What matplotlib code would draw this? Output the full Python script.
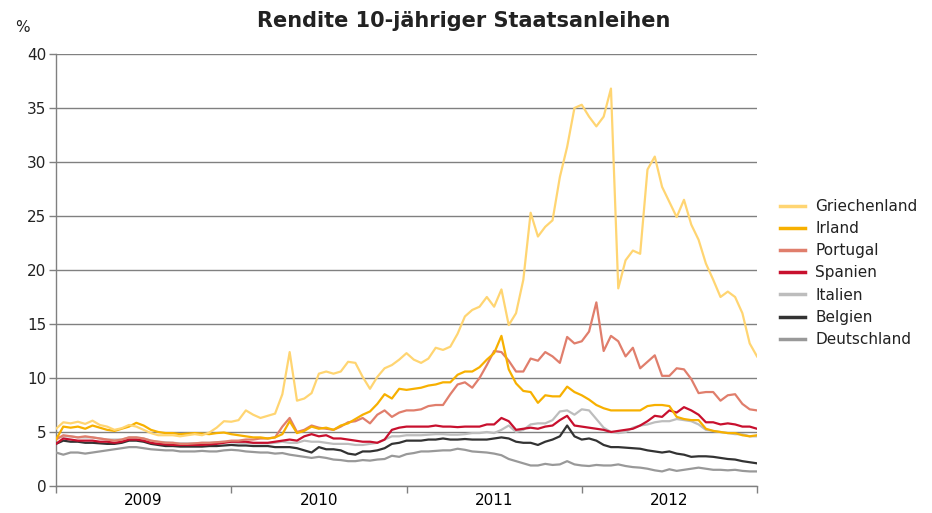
import numpy as np
import matplotlib
matplotlib.use("Agg")
import matplotlib.pyplot as plt

# semi-monthly sample points, 2009-01 .. 2012-12
t = 2009 + np.arange(97) / 24.0

griechenland = [5.3, 5.9, 5.8, 5.95, 5.75, 6.05, 5.65, 5.5, 5.2, 5.35, 5.65, 5.5, 5.2, 4.9, 4.7, 4.7, 4.7, 4.6, 4.7, 4.8, 4.7, 4.95, 5.4, 6.0,
                5.95, 6.1, 7.0, 6.6, 6.3, 6.5, 6.7, 8.5, 12.4, 7.9, 8.1, 8.6, 10.4, 10.6, 10.4, 10.6, 11.5, 11.4, 10.1, 9.0, 10.1, 10.9, 11.2, 11.7,
                12.3, 11.7, 11.4, 11.8, 12.8, 12.6, 12.9, 14.1, 15.7, 16.3, 16.6, 17.5, 16.6, 18.2, 14.9, 16.0, 19.1, 25.3, 23.1, 24.0, 24.6, 28.6, 31.4, 35.0,
                35.3, 34.2, 33.3, 34.2, 36.8, 18.3, 20.9, 21.8, 21.5, 29.3, 30.5, 27.7, 26.3, 24.9, 26.5, 24.2, 22.8, 20.6, 19.1, 17.5, 18.0, 17.5, 16.0, 13.2,
                12.0]
irland = [4.3, 5.5, 5.4, 5.5, 5.3, 5.6, 5.4, 5.2, 5.1, 5.3, 5.5, 5.85, 5.6, 5.2, 5.0, 4.9, 4.9, 4.8, 4.85, 4.9, 4.85, 4.8, 4.9, 4.95,
          4.8, 4.7, 4.6, 4.5, 4.5, 4.4, 4.5, 4.8, 6.0, 4.9, 5.1, 5.5, 5.3, 5.4, 5.2, 5.6, 5.8, 6.2, 6.6, 6.9, 7.6, 8.5, 8.1, 9.0,
          8.9, 9.0, 9.1, 9.3, 9.4, 9.6, 9.6, 10.3, 10.6, 10.6, 11.0, 11.7, 12.3, 13.9, 10.8, 9.5, 8.8, 8.7, 7.7, 8.4, 8.3, 8.3, 9.2, 8.7,
          8.4, 8.0, 7.5, 7.2, 7.0, 7.0, 7.0, 7.0, 7.0, 7.4, 7.5, 7.5, 7.4, 6.4, 6.2, 6.1, 6.1, 5.3, 5.1, 5.0, 4.9, 4.9, 4.7, 4.6,
          4.7]
portugal = [4.3, 4.7, 4.6, 4.5, 4.6, 4.5, 4.4, 4.3, 4.2, 4.3, 4.5, 4.5, 4.4, 4.2, 4.1, 4.0, 4.0, 3.9, 3.9, 3.95, 4.0, 4.0, 4.05, 4.1,
            4.2, 4.2, 4.3, 4.3, 4.4, 4.4, 4.5, 5.5, 6.3, 5.0, 5.2, 5.6, 5.4, 5.3, 5.2, 5.5, 5.9, 6.0, 6.3, 5.8, 6.6, 7.0, 6.4, 6.8,
            7.0, 7.0, 7.1, 7.4, 7.5, 7.5, 8.5, 9.4, 9.6, 9.1, 10.0, 11.2, 12.5, 12.4, 11.6, 10.6, 10.6, 11.8, 11.6, 12.4, 12.0, 11.4, 13.8, 13.2,
            13.4, 14.3, 17.0, 12.5, 13.9, 13.4, 12.0, 12.8, 10.9, 11.5, 12.1, 10.2, 10.2, 10.9, 10.8, 9.9, 8.6, 8.7, 8.7, 7.9, 8.4, 8.5, 7.6, 7.1,
            7.0]
spanien = [3.9, 4.4, 4.3, 4.2, 4.2, 4.2, 4.1, 4.1, 4.0, 4.1, 4.3, 4.3, 4.2, 4.0, 3.9, 3.85, 3.8, 3.8, 3.8, 3.8, 3.8, 3.85, 3.9, 4.0,
           4.1, 4.1, 4.1, 4.0, 4.0, 4.0, 4.1, 4.2, 4.3, 4.2, 4.6, 4.8, 4.6, 4.7, 4.4, 4.4, 4.3, 4.2, 4.1, 4.1, 4.0, 4.3, 5.2, 5.4,
           5.5, 5.5, 5.5, 5.5, 5.6, 5.5, 5.5, 5.45, 5.5, 5.5, 5.5, 5.7, 5.7, 6.3, 6.0, 5.2, 5.3, 5.4, 5.3, 5.5, 5.6, 6.1, 6.5, 5.6,
           5.5, 5.4, 5.3, 5.2, 5.0, 5.1, 5.2, 5.3, 5.6, 6.0, 6.5, 6.4, 7.0, 6.8, 7.3, 7.0, 6.6, 5.9, 5.9, 5.7, 5.8, 5.7, 5.5, 5.5,
           5.3]
italien = [4.4, 4.6, 4.6, 4.5, 4.5, 4.5, 4.4, 4.3, 4.3, 4.3, 4.5, 4.5, 4.4, 4.2, 4.1, 4.05, 4.0, 3.95, 3.95, 3.95, 4.0, 4.0, 4.05, 4.1,
           4.05, 4.0, 4.0, 3.95, 3.95, 3.95, 4.0, 4.1, 4.0, 4.0, 4.2, 4.1, 4.1, 4.0, 3.9, 3.9, 3.9, 3.8, 3.8, 3.9, 4.0, 4.3, 4.6, 4.6,
           4.7, 4.7, 4.7, 4.75, 4.8, 4.8, 4.75, 4.75, 4.8, 4.9, 4.9, 5.0, 4.9, 5.2, 5.6, 5.0, 5.2, 5.7, 5.8, 5.8, 6.1, 6.9, 7.0, 6.6,
           7.1, 7.0, 6.2, 5.4, 5.0, 4.9, 5.0, 5.4, 5.6, 5.7, 5.9, 6.0, 6.0, 6.2, 6.1, 6.0, 5.7, 5.2, 5.1, 5.0, 4.9, 4.8, 4.8, 4.6,
           4.6]
belgien = [3.9, 4.2, 4.1, 4.1, 4.0, 4.0, 3.95, 3.9, 3.9, 4.0, 4.2, 4.2, 4.1, 3.9, 3.8, 3.7, 3.7, 3.65, 3.65, 3.65, 3.65, 3.7, 3.7, 3.75,
           3.8, 3.75, 3.75, 3.7, 3.7, 3.7, 3.6, 3.6, 3.6, 3.5, 3.3, 3.1, 3.6, 3.4, 3.4, 3.3, 3.0, 2.9, 3.2, 3.2, 3.3, 3.5, 3.9, 4.0,
           4.2, 4.2, 4.2, 4.3, 4.3, 4.4, 4.3, 4.3, 4.35, 4.3, 4.3, 4.3, 4.4, 4.5, 4.4, 4.1, 4.0, 4.0, 3.8, 4.1, 4.3, 4.6, 5.6, 4.6,
           4.3, 4.4, 4.2, 3.8, 3.6, 3.6, 3.55, 3.5, 3.45, 3.3, 3.2, 3.1, 3.2, 3.0, 2.9, 2.7, 2.75, 2.75, 2.7, 2.6, 2.5, 2.45, 2.3, 2.2,
           2.1]
deutschland = [3.1, 2.9, 3.1, 3.1, 3.0, 3.1, 3.2, 3.3, 3.4, 3.5, 3.6, 3.6, 3.5, 3.4, 3.35, 3.3, 3.3, 3.2, 3.2, 3.2, 3.25, 3.2, 3.2, 3.3,
               3.35, 3.3, 3.2, 3.15, 3.1, 3.1, 3.0, 3.05, 2.9, 2.8, 2.7, 2.6, 2.7, 2.6, 2.45, 2.4, 2.3, 2.3, 2.4, 2.35, 2.45, 2.5, 2.8, 2.7,
               2.95, 3.05, 3.2, 3.2, 3.25, 3.3, 3.3, 3.45, 3.35, 3.2, 3.15, 3.1, 3.0, 2.85, 2.5, 2.3, 2.1, 1.9, 1.9, 2.05, 1.95, 2.0, 2.3, 2.0,
               1.9, 1.85, 1.95, 1.9, 1.9, 2.0, 1.85, 1.75, 1.7, 1.6, 1.45, 1.35, 1.55, 1.4, 1.5, 1.6, 1.7, 1.6, 1.5, 1.5, 1.45, 1.5, 1.4, 1.35,
               1.35]

series_names = ["Griechenland", "Irland", "Portugal", "Spanien", "Italien", "Belgien", "Deutschland"]
series_vals = [griechenland, irland, portugal, spanien, italien, belgien, deutschland]
colors = ["#FFD572", "#F7B000", "#E07E6C", "#C8102E", "#BDBDBD", "#333333", "#999999"]
year_labels = ["2009", "2010", "2011", "2012"]

fig = plt.figure(figsize=(9.32, 5.13), dpi=100)
ax = fig.add_axes([56/932, 1 - 486/513, (757-56)/932, (486-54)/513])

order = [6, 5, 4, 3, 2, 1, 0]
handles = {}
for i in order:
    ln, = ax.plot(t, series_vals[i], color=colors[i], lw=1.6, label=series_names[i],
                  solid_joinstyle="round", zorder=3)
    handles[i] = ln

ax.set_xlim(2009, 2013)
ax.set_ylim(0, 40)
ax.set_yticks(np.arange(0, 41, 5))
ax.yaxis.grid(True, color="#808080", lw=1.0)
ax.set_axisbelow(True)

ax.set_xticks([2009, 2010, 2011, 2012, 2013])
ax.set_xticklabels([])
ax.set_xticks([2009.5, 2010.5, 2011.5, 2012.5], minor=True)
ax.set_xticklabels(year_labels, minor=True)
ax.tick_params(axis="x", which="minor", length=0, pad=5)
ax.tick_params(axis="x", which="major", length=5, color="#808080", width=1)
ax.tick_params(axis="y", length=5, color="#808080", width=1, pad=2)
ax.tick_params(labelsize=11, labelcolor="#222222")
for lab in ax.get_xticklabels(minor=True):
    lab.set_fontsize(11)

for s in ["top", "right"]:
    ax.spines[s].set_visible(False)
for s in ["left", "bottom"]:
    ax.spines[s].set_color("#808080")
    ax.spines[s].set_linewidth(1.0)

fig.text(464/932, 1 - 21/513, "Rendite 10-jähriger Staatsanleihen", ha="center", va="center",
         fontsize=15, fontweight="bold", color="#222222")
fig.text(22/932, 1 - 28/513, "%", ha="center", va="center", fontsize=11, color="#222222")

leg = ax.legend([handles[i] for i in range(7)], series_names, loc="center left",
                bbox_to_anchor=(780/932, 1 - 273/513), bbox_transform=fig.transFigure,
                frameon=False, fontsize=11, handlelength=1.65, handletextpad=0.65,
                labelspacing=0.47, borderaxespad=0, borderpad=0)
for txt in leg.get_texts():
    txt.set_color("#222222")
for lh in leg.get_lines():
    lh.set_linewidth(2.5)

fig.savefig("out.png", dpi=100)
